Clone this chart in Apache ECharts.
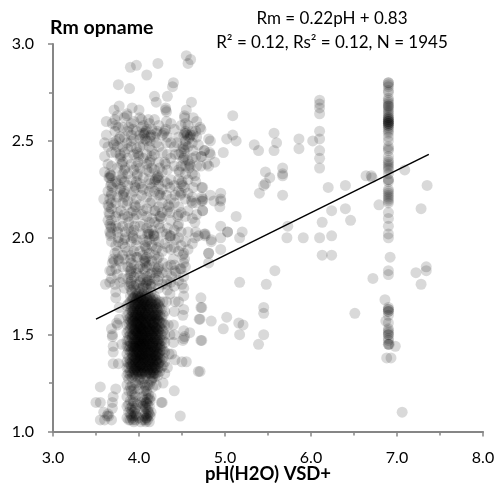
<!DOCTYPE html>
<html>
<head>
<meta charset="utf-8">
<style>
html, body { margin: 0; padding: 0; background: #fff; }
#Chart { width: 496px; height: 483px; }
</style>
<script src="https://cdn.jsdelivr.net/npm/echarts@6/dist/echarts.min.js"></script>
</head>
<body>
<div id="Chart"></div>
<script>
// trend line ends
var trendPH = [3.5, 7.37];
var trendRm = [1.58, 2.43];

// dense band around pH 4, one list per pH
var corePH = [3.86, 3.88, 3.90, 3.92, 3.94, 3.96, 3.98, 4.00, 4.02, 4.04, 4.06, 4.08, 4.10, 4.12, 4.14, 4.16, 4.18, 4.20, 4.22, 4.24, 4.26, 4.28, 4.30];
var coreRm = [
    [1.07, 1.13, 1.18, 1.24, 1.29, 1.33, 1.36, 1.40, 1.44, 1.47, 1.51, 1.55, 1.60, 1.65],
    [1.06, 1.10, 1.14, 1.21, 1.27, 1.30, 1.33, 1.35, 1.38, 1.42, 1.44, 1.47, 1.49, 1.52, 1.56, 1.58, 1.61, 1.66],
    [1.06, 1.09, 1.12, 1.16, 1.23, 1.29, 1.31, 1.35, 1.37, 1.41, 1.44, 1.46, 1.50, 1.53, 1.57, 1.59, 1.63, 1.67, 1.70],
    [1.07, 1.11, 1.13, 1.19, 1.24, 1.28, 1.30, 1.33, 1.36, 1.38, 1.40, 1.43, 1.45, 1.48, 1.49, 1.51, 1.54, 1.56, 1.58, 1.60, 1.62, 1.65, 1.68, 1.72],
    [1.05, 1.08, 1.10, 1.15, 1.22, 1.29, 1.31, 1.32, 1.34, 1.37, 1.39, 1.41, 1.42, 1.44, 1.46, 1.47, 1.50, 1.52, 1.53, 1.55, 1.57, 1.59, 1.61, 1.63, 1.64, 1.66, 1.69],
    [1.06, 1.09, 1.12, 1.18, 1.25, 1.30, 1.33, 1.35, 1.36, 1.38, 1.40, 1.43, 1.44, 1.45, 1.47, 1.49, 1.51, 1.52, 1.54, 1.56, 1.58, 1.60, 1.62, 1.65, 1.67, 1.70, 1.73],
    [1.14, 1.24, 1.31, 1.32, 1.34, 1.37, 1.39, 1.41, 1.42, 1.44, 1.46, 1.48, 1.50, 1.51, 1.53, 1.55, 1.57, 1.59, 1.60, 1.63, 1.64, 1.66, 1.69, 1.71],
    [1.07, 1.22, 1.27, 1.30, 1.33, 1.35, 1.36, 1.38, 1.40, 1.41, 1.43, 1.45, 1.46, 1.47, 1.49, 1.50, 1.52, 1.54, 1.56, 1.57, 1.58, 1.61, 1.62, 1.65, 1.67, 1.68, 1.72],
    [1.05, 1.15, 1.27, 1.31, 1.32, 1.34, 1.37, 1.38, 1.39, 1.42, 1.44, 1.45, 1.47, 1.48, 1.51, 1.53, 1.54, 1.55, 1.58, 1.59, 1.60, 1.63, 1.64, 1.66, 1.69, 1.70],
    [1.06, 1.13, 1.18, 1.25, 1.30, 1.33, 1.35, 1.36, 1.39, 1.40, 1.41, 1.43, 1.45, 1.46, 1.49, 1.50, 1.52, 1.53, 1.56, 1.57, 1.59, 1.61, 1.62, 1.65, 1.67, 1.68, 1.71, 1.74],
    [1.08, 1.10, 1.16, 1.21, 1.27, 1.31, 1.32, 1.34, 1.37, 1.38, 1.40, 1.42, 1.44, 1.45, 1.47, 1.48, 1.50, 1.52, 1.54, 1.55, 1.58, 1.60, 1.63, 1.64, 1.66, 1.69, 1.72],
    [1.05, 1.07, 1.09, 1.12, 1.15, 1.19, 1.23, 1.29, 1.30, 1.33, 1.35, 1.36, 1.39, 1.41, 1.43, 1.44, 1.46, 1.49, 1.51, 1.53, 1.55, 1.56, 1.57, 1.59, 1.61, 1.62, 1.65, 1.67, 1.70],
    [1.06, 1.08, 1.11, 1.14, 1.17, 1.24, 1.31, 1.32, 1.34, 1.37, 1.38, 1.40, 1.42, 1.43, 1.45, 1.47, 1.48, 1.50, 1.52, 1.54, 1.58, 1.60, 1.63, 1.64, 1.66, 1.68, 1.71],
    [1.05, 1.09, 1.13, 1.17, 1.24, 1.30, 1.33, 1.35, 1.36, 1.39, 1.41, 1.44, 1.45, 1.46, 1.49, 1.51, 1.53, 1.55, 1.56, 1.59, 1.61, 1.62, 1.65, 1.67, 1.70],
    [1.10, 1.18, 1.26, 1.29, 1.32, 1.34, 1.37, 1.38, 1.40, 1.42, 1.43, 1.47, 1.48, 1.50, 1.52, 1.54, 1.57, 1.58, 1.60, 1.63, 1.66, 1.68, 1.72],
    [1.23, 1.28, 1.31, 1.33, 1.35, 1.36, 1.39, 1.41, 1.44, 1.45, 1.46, 1.49, 1.51, 1.53, 1.55, 1.56, 1.59, 1.61, 1.64, 1.67, 1.69],
    [1.28, 1.30, 1.32, 1.34, 1.37, 1.38, 1.40, 1.42, 1.43, 1.47, 1.48, 1.50, 1.52, 1.54, 1.57, 1.58, 1.60, 1.63, 1.65, 1.70],
    [1.24, 1.30, 1.33, 1.36, 1.37, 1.39, 1.41, 1.44, 1.46, 1.49, 1.51, 1.53, 1.56, 1.59, 1.61, 1.64, 1.66, 1.68],
    [1.29, 1.33, 1.35, 1.38, 1.40, 1.43, 1.45, 1.47, 1.50, 1.52, 1.55, 1.58, 1.60, 1.62, 1.66],
    [1.31, 1.36, 1.38, 1.41, 1.43, 1.45, 1.48, 1.51, 1.54, 1.57, 1.60, 1.64, 1.67],
    [1.33, 1.37, 1.42, 1.44, 1.47, 1.50, 1.53, 1.56, 1.59, 1.63],
    [1.34, 1.38, 1.42, 1.47, 1.52, 1.56, 1.60, 1.67],
    [1.36, 1.41, 1.46, 1.50, 1.55, 1.62]
];

// more of the dense band, between the lists above
var coreMorePH = [3.91, 3.93, 3.95, 3.97, 3.99, 4.01, 4.03, 4.05, 4.07, 4.09, 4.11, 4.13, 4.15, 4.17, 4.19, 4.21, 4.23];
var coreMoreRm = [
    [1.08, 1.21, 1.34, 1.42, 1.55, 1.64],
    [1.06, 1.16, 1.35, 1.39, 1.44, 1.50, 1.57, 1.62, 1.69],
    [1.11, 1.19, 1.32, 1.37, 1.43, 1.48, 1.53, 1.59, 1.65],
    [1.08, 1.29, 1.33, 1.38, 1.41, 1.46, 1.52, 1.56, 1.61, 1.68],
    [1.31, 1.36, 1.42, 1.47, 1.51, 1.55, 1.60, 1.66, 1.70],
    [1.28, 1.34, 1.39, 1.44, 1.49, 1.54, 1.59, 1.63, 1.69],
    [1.30, 1.35, 1.40, 1.46, 1.50, 1.53, 1.57, 1.62, 1.66],
    [1.14, 1.33, 1.37, 1.43, 1.48, 1.52, 1.58, 1.64, 1.68],
    [1.06, 1.13, 1.24, 1.31, 1.38, 1.42, 1.47, 1.51, 1.56, 1.61, 1.67],
    [1.07, 1.15, 1.21, 1.34, 1.39, 1.45, 1.49, 1.54, 1.59, 1.65, 1.69],
    [1.10, 1.19, 1.32, 1.36, 1.41, 1.47, 1.52, 1.57, 1.63],
    [1.08, 1.16, 1.30, 1.37, 1.42, 1.48, 1.53, 1.58, 1.64, 1.69],
    [1.27, 1.33, 1.38, 1.44, 1.50, 1.55, 1.60, 1.66],
    [1.30, 1.35, 1.41, 1.46, 1.52, 1.56, 1.62],
    [1.33, 1.39, 1.43, 1.48, 1.54, 1.60, 1.67],
    [1.32, 1.37, 1.42, 1.47, 1.53, 1.58, 1.63],
    [1.35, 1.40, 1.46, 1.52, 1.57, 1.65]
];

// upper cloud, points read one by one as pH and Rm
var cloudPoints = [
    [4.55,2.94],[4.60,2.92],[4.57,2.90],[4.22,2.90],[3.97,2.89],[3.90,2.88],[4.09,2.84],[3.76,2.79],[3.89,2.77],[4.40,2.80],[4.39,2.78],[4.18,2.73],[4.20,2.70],[4.33,2.73],[4.61,2.70],[4.31,2.66],[4.31,2.67],[4.32,2.65],
    [3.77,2.68],[3.71,2.66],[3.86,2.64],[3.86,2.63],[3.92,2.67],[4.00,2.66],[3.62,2.60],[3.72,2.61],[3.69,2.59],[3.91,2.59],[4.03,2.61],[4.11,2.61],[4.32,2.60],[4.37,2.59],[4.53,2.62],[4.53,2.63],[4.55,2.66],[4.63,2.62],[4.67,2.60],
    [3.76,2.57],[3.62,2.53],[3.72,2.55],[3.88,2.57],[3.93,2.56],[4.03,2.57],[4.07,2.54],[4.06,2.53],[4.08,2.55],[4.05,2.54],[4.13,2.52],[4.14,2.53],[4.21,2.55],[4.20,2.54],[4.30,2.55],[4.31,2.56],[4.29,2.54],[4.53,2.54],[4.54,2.55],[4.55,2.54],[4.56,2.53],[4.52,2.53],[4.59,2.52],[4.60,2.53],[4.58,2.51],[4.71,2.57],[4.67,2.52],[4.63,2.53],
    [3.60,2.49],[3.70,2.49],[3.71,2.48],[3.77,2.51],[3.78,2.52],[3.86,2.49],[3.91,2.50],[3.99,2.43],[4.00,2.42],[3.98,2.44],[4.01,2.47],[4.07,2.51],[4.13,2.50],[4.20,2.49],[4.32,2.49],[4.44,2.49],[4.52,2.46],[4.51,2.47],[4.53,2.45],[4.63,2.45],[4.69,2.48],[4.76,2.45],[4.81,2.51],[4.82,2.44],
    [3.60,2.42],[3.78,2.43],[3.79,2.42],[3.78,2.41],[3.81,2.39],[3.80,2.38],[3.84,2.36],[3.83,2.35],[3.99,2.39],[4.13,2.40],[4.12,2.39],[4.15,2.42],[4.30,2.39],[4.31,2.38],[4.42,2.43],[4.52,2.41],[4.51,2.40],[4.53,2.42],[4.59,2.38],[4.60,2.37],[4.58,2.36],[4.67,2.37],[4.73,2.42],[4.79,2.38],[4.46,2.35],[4.47,2.34],[4.09,2.38],[4.24,2.36],
    [3.60,2.34],[3.66,2.33],[3.67,2.32],[3.65,2.31],[3.66,2.31],[3.68,2.32],[3.68,2.28],[3.67,2.27],[3.69,2.26],[3.80,2.31],[3.79,2.30],[3.79,2.26],[3.78,2.25],[3.98,2.32],[3.98,2.33],[3.95,2.27],[3.96,2.26],[4.22,2.32],[4.23,2.31],[4.21,2.31],[4.22,2.30],[4.19,2.30],[4.18,2.29],[4.30,2.29],[4.13,2.28],[4.50,2.29],[4.49,2.28],[4.51,2.27],[4.65,2.32],[4.53,2.26],[4.63,2.26],[4.73,2.26],[4.36,2.26],[4.03,2.26],
    [3.59,2.20],[3.68,2.23],[3.66,2.20],[3.82,2.23],[3.81,2.22],[3.83,2.21],[4.03,2.22],[4.24,2.23],[4.25,2.22],[4.23,2.22],[4.32,2.22],[4.48,2.22],[4.61,2.19],[4.62,2.18],[4.73,2.21],[4.73,2.19],[4.13,2.18],[3.86,2.17],[3.95,2.17],[3.96,2.16],[4.34,2.17],[4.35,2.16],[4.42,2.22],
    [3.65,2.13],[3.66,2.12],[3.79,2.14],[3.65,2.16],[3.93,2.14],[4.03,2.12],[4.19,2.14],[4.25,2.11],[4.26,2.10],[4.24,2.11],[4.46,2.12],[4.45,2.11],[4.46,2.07],[4.45,2.06],[4.67,2.12],[4.74,2.14],[4.65,2.08],[4.09,2.11],[4.36,2.13],[3.88,2.08],
    [3.66,2.07],[3.67,2.06],[3.66,2.03],[3.67,2.02],[3.76,2.05],[3.88,2.05],[3.84,2.03],[3.95,2.06],[4.11,2.03],[4.10,2.02],[4.12,2.02],[4.17,2.02],[4.18,2.01],[4.32,2.02],[4.36,2.00],[4.37,2.01],[4.57,2.03],[4.76,2.02],[4.69,2.01],[3.93,2.01],[3.76,2.00],[4.24,2.05],[4.03,2.02],
    [3.67,2.01],[3.76,1.98],[3.84,2.00],[3.84,1.95],[3.93,2.00],[3.97,1.96],[4.08,1.95],[4.07,1.96],[4.09,1.94],[4.21,1.95],[4.20,1.94],[4.30,1.97],[4.42,1.99],[4.65,2.00],[4.77,2.01],[4.36,2.01],[4.17,2.01],
    [3.70,1.89],[3.71,1.88],[3.69,1.87],[3.76,1.89],[3.77,1.88],[3.72,1.92],[3.90,1.89],[3.91,1.87],[3.98,1.90],[4.07,1.89],[4.06,1.88],[4.08,1.88],[4.07,1.87],[4.21,1.89],[4.40,1.89],[4.52,1.92],[4.51,1.91],[4.53,1.89],[4.52,1.87],[4.23,1.85],[4.22,1.84],[4.28,1.87],[4.81,1.92],
    [3.68,1.83],[3.66,1.83],[3.90,1.83],[3.91,1.82],[3.90,1.81],[3.99,1.84],[4.07,1.83],[4.21,1.83],[4.20,1.82],[4.42,1.83],[4.43,1.82],[4.48,1.84],[4.32,1.82],[4.13,1.81],[4.81,1.87],
    [3.61,1.76],[3.66,1.77],[3.72,1.76],[3.78,1.77],[3.90,1.77],[3.91,1.76],[3.89,1.75],[4.01,1.77],[4.02,1.78],[4.09,1.77],[4.10,1.78],[4.08,1.76],[4.22,1.78],[4.38,1.80],[4.52,1.80],[4.50,1.76],[4.13,1.76],[4.14,1.75],[4.32,1.76],[4.52,1.74]
];

// rest of the upper cloud, one list per pH
var cloudMorePH = [3.64, 3.68, 3.73, 3.75, 3.81, 3.83, 3.87, 3.91, 3.94, 3.97, 4.01, 4.05, 4.09, 4.12, 4.15, 4.18, 4.23, 4.27, 4.33, 4.37, 4.41, 4.46, 4.49, 4.54, 4.57, 4.62, 4.66];
var cloudMoreRm = [
    [2.47, 2.38, 2.24, 2.17, 2.09],
    [2.44, 2.37, 2.22, 2.18, 2.15, 2.09, 2.05, 1.98, 1.79],
    [2.58, 2.50, 2.44, 2.29, 2.18, 2.11, 2.06, 1.96, 1.84, 1.72],
    [2.63, 2.47, 2.36, 2.28, 2.21, 2.13, 2.03, 1.93, 1.81],
    [2.57, 2.47, 2.33, 2.18, 2.10, 2.06, 1.97, 1.91, 1.85, 1.79],
    [2.62, 2.52, 2.44, 2.29, 2.24, 2.12, 1.99, 1.89, 1.74],
    [2.55, 2.46, 2.41, 2.33, 2.27, 2.19, 2.11, 1.93, 1.85, 1.79],
    [2.53, 2.47, 2.38, 2.30, 2.22, 2.13, 2.03, 1.98, 1.91, 1.84, 1.78, 1.73],
    [2.60, 2.51, 2.43, 2.35, 2.24, 2.10, 2.04, 1.93, 1.86, 1.80, 1.75],
    [2.55, 2.46, 2.37, 2.29, 2.20, 2.12, 1.99, 1.90, 1.82, 1.76],
    [2.62, 2.53, 2.51, 2.36, 2.28, 2.17, 2.06, 1.93, 1.85, 1.80, 1.74],
    [2.58, 2.48, 2.41, 2.31, 2.25, 2.14, 2.07, 1.99, 1.91, 1.84, 1.79, 1.75],
    [2.56, 2.50, 2.43, 2.35, 2.21, 2.15, 2.05, 1.98, 1.90, 1.85, 1.80, 1.74],
    [2.59, 2.47, 2.34, 2.30, 2.24, 2.08, 1.99, 1.92, 1.86, 1.78],
    [2.56, 2.45, 2.36, 2.26, 2.19, 2.10, 2.04, 1.96, 1.88, 1.82, 1.76],
    [2.61, 2.52, 2.43, 2.35, 2.24, 2.14, 2.08, 1.99, 1.91, 1.85, 1.79],
    [2.58, 2.47, 2.39, 2.27, 2.16, 2.07, 1.98, 1.90, 1.80, 1.74],
    [2.53, 2.44, 2.34, 2.25, 2.18, 2.13, 2.03, 1.93, 1.82, 1.76],
    [2.52, 2.43, 2.35, 2.28, 2.14, 2.05, 1.95, 1.85, 1.78, 1.73],
    [2.49, 2.41, 2.30, 2.20, 2.09, 1.94, 1.86, 1.77],
    [2.56, 2.47, 2.37, 2.27, 2.18, 2.04, 1.95, 1.86, 1.75],
    [2.52, 2.43, 2.30, 2.24, 2.16, 2.00, 1.93, 1.78],
    [2.58, 2.44, 2.37, 2.23, 2.13, 2.03, 1.96, 1.84],
    [2.59, 2.50, 2.48, 2.37, 2.33, 2.20, 2.11, 1.98, 1.85],
    [2.58, 2.47, 2.40, 2.30, 2.23, 2.14, 1.94],
    [2.55, 2.49, 2.41, 2.33, 2.21, 2.10, 1.97],
    [2.55, 2.42, 2.29, 2.18, 2.03]
];

// points either side of the dense band
var sidePH = [3.55, 3.73, 3.50, 3.55, 3.70, 3.69, 3.69, 3.59, 3.64, 3.65, 3.63, 3.60, 3.55, 3.68, 3.70, 3.76, 3.70, 3.70, 3.69, 3.69, 3.80, 3.68, 3.74, 3.75, 3.77, 3.77, 3.73, 4.41, 4.26, 4.27, 4.48, 4.69, 4.50, 4.55, 4.42, 4.72, 4.59, 4.52, 4.53, 4.51, 4.40, 4.41, 4.40, 4.52, 4.51, 4.52, 4.41, 4.46, 4.52, 4.70, 4.72, 4.72, 4.36, 4.32, 4.36, 4.35, 4.33, 4.30, 4.28, 4.42, 4.38, 4.34];
var sideRm = [1.23, 1.22, 1.15, 1.15, 1.18, 1.15, 1.12, 1.10, 1.09, 1.08, 1.08, 1.06, 1.06, 1.06, 1.35, 1.35, 1.44, 1.41, 1.49, 1.50, 1.45, 1.53, 1.56, 1.55, 1.58, 1.64, 1.69, 1.21, 1.15, 1.15, 1.08, 1.31, 1.36, 1.36, 1.37, 1.47, 1.51, 1.48, 1.49, 1.47, 1.46, 1.50, 1.55, 1.52, 1.60, 1.63, 1.62, 1.67, 1.70, 1.58, 1.64, 1.69, 1.71, 1.67, 1.50, 1.40, 1.33, 1.30, 1.25, 1.67, 1.40, 1.55];

// streak of points at pH 6.9
var streakPH = 6.9;
var streakRm = [2.80, 2.80, 2.79, 2.78, 2.76, 2.75, 2.72, 2.71, 2.70, 2.69, 2.68, 2.68, 2.67, 2.66, 2.65, 2.64, 2.63, 2.62, 2.62, 2.61, 2.61, 2.60, 2.60, 2.60, 2.59, 2.59, 2.59, 2.58, 2.58, 2.57, 2.56, 2.55, 2.54, 2.52, 2.50, 2.47, 2.46, 2.45, 2.42, 2.40, 2.39, 2.38, 2.37, 2.36, 2.35, 2.33, 2.30, 2.30, 2.29, 2.25, 2.24, 2.23, 2.22, 2.21, 2.20, 2.19, 2.18, 2.13, 2.10, 2.06, 2.02, 2.00, 1.83, 1.81, 1.64, 1.63, 1.63, 1.62, 1.62, 1.60, 1.56, 1.53, 1.52, 1.51, 1.50, 1.50, 1.48, 1.47, 1.45, 1.45];

// scattered points right of the cloud
var sparsePH = [4.72, 4.83, 5.02, 5.09, 5.13, 4.76, 4.83, 4.98, 4.88, 4.81, 4.72, 4.72, 5.09, 5.34, 5.39, 5.57, 5.60, 5.57, 5.86, 5.86, 6.02, 6.10, 6.10, 6.10, 6.10, 6.10, 6.10, 6.10, 6.10, 6.10, 5.47, 5.52, 5.47, 5.45, 5.40, 5.67, 5.67, 5.67, 5.67, 6.20, 6.40, 6.64, 6.70, 6.71, 7.09, 6.79, 6.24, 6.40, 6.46, 6.13, 5.73, 5.13, 4.95, 5.03, 5.03, 5.20, 5.17, 4.95, 4.84, 4.77, 5.72, 5.91, 6.10, 6.24, 7.35, 7.28, 4.74, 4.83, 4.95, 4.95, 4.95, 4.87, 4.74, 4.74, 4.94, 4.74, 4.73, 4.71, 4.84, 5.02, 4.98, 5.16, 5.21, 5.17, 4.73, 5.45, 5.45, 5.45, 5.39, 5.17, 5.48, 5.58, 4.81, 4.95, 4.84, 6.13, 6.24, 6.51, 6.72, 7.22, 7.28, 7.34, 7.34, 6.92, 6.86, 6.87, 6.91, 6.98, 6.88, 6.93, 7.06, 4.71];
var sparseRm = [2.56, 2.50, 2.51, 2.63, 2.50, 2.45, 2.43, 2.44, 2.39, 2.37, 2.37, 2.42, 2.53, 2.48, 2.45, 2.54, 2.49, 2.45, 2.51, 2.46, 2.50, 2.51, 2.55, 2.71, 2.69, 2.67, 2.64, 2.45, 2.41, 2.36, 2.34, 2.31, 2.28, 2.27, 2.23, 2.36, 2.33, 2.32, 2.22, 2.26, 2.27, 2.32, 2.32, 2.31, 2.35, 2.17, 2.14, 2.15, 2.09, 2.08, 2.06, 2.11, 2.06, 2.03, 2.03, 2.03, 2.00, 2.00, 1.99, 2.02, 2.00, 2.00, 2.00, 2.01, 2.27, 2.15, 2.26, 2.22, 2.23, 2.20, 2.19, 2.19, 2.20, 2.19, 2.16, 2.14, 1.64, 1.58, 1.57, 1.59, 1.53, 1.56, 1.55, 1.50, 1.47, 1.64, 1.61, 1.50, 1.45, 1.77, 1.76, 1.83, 1.92, 1.94, 1.98, 1.91, 1.91, 1.61, 1.79, 1.82, 1.76, 1.85, 1.83, 1.90, 1.68, 1.57, 1.45, 1.44, 1.38, 1.38, 1.10, 1.31];

var points = cloudPoints.slice();
function addColumns(phs, rms) {
    phs.forEach(function (ph, i) {
        rms[i].forEach(function (rm) { points.push([ph, rm]); });
    });
}
addColumns(corePH, coreRm);
addColumns(coreMorePH, coreMoreRm);
addColumns(cloudMorePH, cloudMoreRm);
sidePH.forEach(function (ph, i) { points.push([ph, sideRm[i]]); });
streakRm.forEach(function (rm) { points.push([streakPH, rm]); });
sparsePH.forEach(function (ph, i) { points.push([ph, sparseRm[i]]); });

var trend = trendPH.map(function (ph, i) { return [ph, trendRm[i]]; });

var fontName = 'Lato';
var axisGrey = '#868686';

var Chart = echarts.init(document.getElementById('Chart'));

Chart.setOption({
    animation: false,
    backgroundColor: '#fff',
    title: [
        {
            text: 'Rm opname',
            left: 50,
            top: 18,
            padding: 0,
            textStyle: { fontFamily: fontName, fontSize: 19.5, fontWeight: 'bold', color: '#000' }
        },
        {
            text: 'Rm = 0.22pH + 0.83\nR² = 0.12, Rs² = 0.12, N = 1945',
            left: 332,
            top: 7,
            padding: 0,
            textAlign: 'center',
            textStyle: { fontFamily: fontName, fontSize: 17, fontWeight: 'normal', color: '#000', lineHeight: 24 }
        }
    ],
    grid: { left: 53, right: 13, top: 44, bottom: 51.5, outerBoundsMode: 'none' },
    xAxis: {
        type: 'value',
        min: 3,
        max: 8,
        interval: 1,
        name: 'pH(H2O) VSD+',
        nameLocation: 'middle',
        nameGap: 33,
        nameMoveOverlap: false,
        nameTextStyle: { fontFamily: fontName, fontSize: 18.5, fontWeight: 'bold', color: '#000' },
        splitLine: { show: false },
        axisLine: { show: true, lineStyle: { color: axisGrey, width: 2 } },
        axisTick: { show: true, length: 5, lineStyle: { color: axisGrey, width: 1.5 } },
        minorTick: { show: true, splitNumber: 2, length: 4, lineStyle: { color: axisGrey, width: 1.5 } },
        axisLabel: {
            fontFamily: fontName, fontSize: 16, color: '#000', margin: 18,
            formatter: function (v) { return v.toFixed(1); }
        }
    },
    yAxis: {
        type: 'value',
        min: 1,
        max: 3,
        interval: 0.5,
        splitLine: { show: false },
        axisLine: { show: true, lineStyle: { color: axisGrey, width: 2 } },
        axisTick: { show: true, length: 5, lineStyle: { color: axisGrey, width: 1.5 } },
        minorTick: { show: true, splitNumber: 2, length: 4, lineStyle: { color: axisGrey, width: 1.5 } },
        axisLabel: {
            fontFamily: fontName, fontSize: 16, color: '#000', margin: 19,
            formatter: function (v) { return v.toFixed(1); }
        }
    },
    series: [
        {
            type: 'scatter',
            data: points,
            symbolSize: 11,
            silent: true,
            itemStyle: { color: 'rgba(0,0,0,0.19)', borderWidth: 0 }
        },
        {
            type: 'line',
            data: trend,
            symbol: 'none',
            silent: true,
            z: 5,
            lineStyle: { color: '#000', width: 1.5 }
        }
    ]
});

window.addEventListener("resize", function () {
    Chart.resize();
});
</script>
</body>
</html>
